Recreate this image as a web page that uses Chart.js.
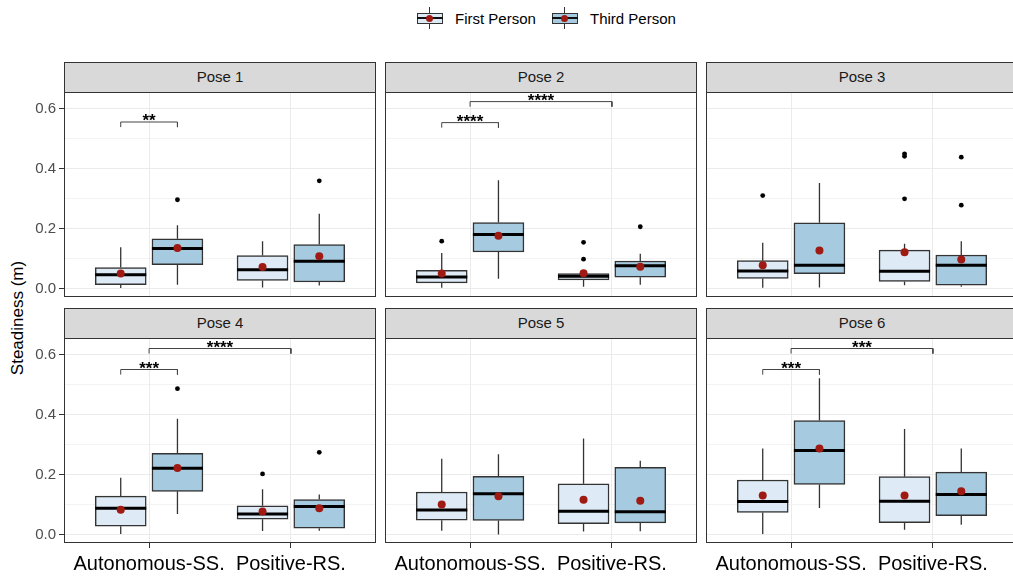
<!DOCTYPE html>
<html>
<head>
<meta charset="utf-8">
<script src="https://cdn.jsdelivr.net/npm/chart.js@4.4.0/dist/chart.umd.min.js"></script>
<style>
    body { margin: 0; width: 1013px; height: 576px; overflow: hidden; background: #fff; position: relative;
           font-family: "Liberation Sans", Arial, sans-serif; }
    canvas { position: absolute; }
    .strip { position: absolute; background: #d9d9d9; border: 1px solid #333; box-sizing: border-box;
             text-align: center; font-size: 15px; color: #1a1a1a; line-height: 28px; }
    .ytitle { position: absolute; left: 18px; top: 318px; transform: translate(-50%, -50%) rotate(-90deg);
              font-size: 17px; color: #000; white-space: nowrap; }
    .key { position: absolute; top: 7px; width: 26px; height: 22px; }
    .key .wh { position: absolute; left: 12px; top: 0; width: 1px; height: 22px; background: #333; }
    .key .bx { position: absolute; left: 0; top: 6px; width: 26px; height: 11px; border: 1px solid #333; box-sizing: border-box; }
    .key .md { position: absolute; left: 0; top: 10px; width: 26px; height: 2px; background: #111; }
    .key .mn { position: absolute; left: 9px; top: 8px; width: 7px; height: 7px; border-radius: 50%; background: #9e1a12; }
    .ktext { position: absolute; top: 10px; font-size: 15px; color: #000; }
</style>
</head>
<body>
<div class="key" style="left:417px"><div class="wh"></div><div class="bx" style="background:#deebf7"></div><div class="md"></div><div class="mn"></div></div>
<div class="ktext" style="left:455px">First Person</div>
<div class="key" style="left:552px"><div class="wh"></div><div class="bx" style="background:#a6cadf"></div><div class="md"></div><div class="mn"></div></div>
<div class="ktext" style="left:590px">Third Person</div>
<div class="ytitle">Steadiness (m)</div>

<script>
// Categories and facets
const categories = ['Autonomous-SS.', 'Positive-RS.'];
const poses = ['Pose 1', 'Pose 2', 'Pose 3', 'Pose 4', 'Pose 5', 'Pose 6'];
const yTicks = [0, 0.2, 0.4, 0.6];

// Box stats per pose, per category: [whisker low, q1, median, q3, whisker high]
const firstPersonBoxes = [
    [[0.002, 0.013, 0.046, 0.070, 0.138], [0.004, 0.027, 0.063, 0.110, 0.158]],
    [[0.003, 0.019, 0.039, 0.061, 0.119], [0.006, 0.029, 0.041, 0.050, 0.058]],
    [[0.003, 0.034, 0.059, 0.093, 0.153], [0.011, 0.024, 0.058, 0.128, 0.149]],
    [[0.002, 0.028, 0.088, 0.128, 0.189], [0.012, 0.051, 0.069, 0.096, 0.151]],
    [[0.013, 0.048, 0.082, 0.142, 0.253], [0.010, 0.036, 0.078, 0.169, 0.320]],
    [[0.002, 0.074, 0.110, 0.182, 0.287], [0.016, 0.040, 0.111, 0.193, 0.352]]
];
const thirdPersonBoxes = [
    [[0.013, 0.080, 0.134, 0.166, 0.211], [0.010, 0.022, 0.091, 0.147, 0.249]],
    [[0.033, 0.122, 0.180, 0.220, 0.361], [0.013, 0.038, 0.076, 0.092, 0.116]],
    [[0.004, 0.050, 0.078, 0.219, 0.352], [0.006, 0.011, 0.078, 0.112, 0.158]],
    [[0.069, 0.144, 0.221, 0.271, 0.386], [0.013, 0.021, 0.094, 0.117, 0.134]],
    [[0.000, 0.047, 0.136, 0.194, 0.268], [0.011, 0.039, 0.076, 0.224, 0.246]],
    [[0.089, 0.167, 0.280, 0.380, 0.521], [0.033, 0.063, 0.134, 0.208, 0.287]]
];

// Means per pose, per category
const firstPersonMeans = [[0.050, 0.072], [0.050, 0.051], [0.078, 0.121], [0.083, 0.077], [0.100, 0.116], [0.130, 0.130]];
const thirdPersonMeans = [[0.135, 0.108], [0.176, 0.073], [0.127, 0.097], [0.222, 0.088], [0.128, 0.113], [0.287, 0.144]];

// Outliers per pose, per category
const firstPersonOutliers = [
    [[], []], [[0.158], [0.098, 0.154]], [[0.310], [0.299, 0.441, 0.449]],
    [[], [0.202]], [[], []], [[], []]
];
const thirdPersonOutliers = [
    [[0.296], [0.359]], [[], [0.206]], [[], [0.278, 0.438]],
    [[0.486], [0.274]], [[], []], [[], []]
];

// Significance brackets: [pose index, from x, to x, y, label]
const brackets = [
    [0, 0.8, 1.2, 0.555, '**'],
    [1, 0.8, 1.2, 0.553, '****'],
    [1, 1.0, 2.0, 0.623, '****'],
    [3, 0.8, 1.2, 0.550, '***'],
    [3, 1.0, 2.0, 0.620, '****'],
    [5, 0.8, 1.2, 0.550, '***'],
    [5, 1.0, 2.0, 0.620, '***']
];

const DODGE = 0.2;
const HALF_BOX = 0.18;
const GRID = '#ebebeb';

function boxData(stats, shift) {
    return stats.map((s, c) => ({ x: c + 1 + shift, y: [s[1], s[3]] }));
}
function whiskerData(stats, shift) {
    const pts = [];
    stats.forEach((s, c) => {
        const x = c + 1 + shift;
        pts.push({ x: x, y: s[0] }, { x: x, y: s[1] }, { x: x, y: null });
        pts.push({ x: x, y: s[3] }, { x: x, y: s[4] }, { x: x, y: null });
    });
    return pts;
}
function medianData(stats, shift) {
    const pts = [];
    stats.forEach((s, c) => {
        const x = c + 1 + shift;
        pts.push({ x: x - HALF_BOX, y: s[2] }, { x: x + HALF_BOX, y: s[2] }, { x: x, y: null });
    });
    return pts;
}
function pointData(values, shift) {
    return values.map((v, c) => ({ x: c + 1 + shift, y: v }));
}
function outlierData(lists, shift) {
    const pts = [];
    lists.forEach((l, c) => l.forEach(v => pts.push({ x: c + 1 + shift, y: v })));
    return pts;
}
function bracketData(p) {
    const pts = [];
    brackets.filter(b => b[0] === p).forEach(b => {
        pts.push({ x: b[1], y: b[3] - 0.017 }, { x: b[1], y: b[3] },
                 { x: b[2], y: b[3] }, { x: b[2], y: b[3] - 0.017 }, { x: b[2], y: null });
    });
    return pts;
}
function isMajor(v) {
    return yTicks.some(t => Math.abs(t - v) < 1e-6);
}

// Panel border and significance stars
const panelDecor = {
    id: 'panelDecor',
    afterDatasetsDraw(chart, args, opts) {
        const ctx = chart.ctx;
        const a = chart.chartArea;
        const xs = chart.scales.x, ys = chart.scales.y;
        ctx.save();
        ctx.fillStyle = '#000';
        ctx.font = 'bold 17px "Liberation Sans", Arial, sans-serif';
        ctx.textAlign = 'center';
        ctx.textBaseline = 'alphabetic';
        brackets.filter(b => b[0] === opts.pose).forEach(b => {
            ctx.fillText(b[4], xs.getPixelForValue((b[1] + b[2]) / 2), ys.getPixelForValue(b[3]) + 4);
        });
        ctx.strokeStyle = '#333';
        ctx.lineWidth = 1;
        ctx.strokeRect(a.left + 0.5, a.top + 0.5, a.right - a.left - 1, a.bottom - a.top - 1);
        ctx.restore();
    }
};

const plotLefts = [64, 385, 706];
const plotTops = [92, 338];
const PLOT_W = 312, PLOT_H = 205;

poses.forEach((pose, p) => {
    const col = p % 3, row = Math.floor(p / 3);
    const axisW = col === 0 ? 64 : 0;
    const axisH = row === 1 ? 35 : 0;

    const strip = document.createElement('div');
    strip.className = 'strip';
    strip.style.left = plotLefts[col] + 'px';
    strip.style.top = (plotTops[row] - 30) + 'px';
    strip.style.width = PLOT_W + 'px';
    strip.style.height = '31px';
    strip.textContent = pose;
    document.body.appendChild(strip);

    const canvas = document.createElement('canvas');
    canvas.width = PLOT_W + axisW;
    canvas.height = PLOT_H + axisH;
    canvas.style.left = (plotLefts[col] - axisW) + 'px';
    canvas.style.top = plotTops[row] + 'px';
    document.body.appendChild(canvas);

    const fp = firstPersonBoxes[p], tp = thirdPersonBoxes[p];

    new Chart(canvas.getContext('2d'), {
        type: 'bar',
        data: {
            datasets: [
                { label: 'First Person', data: boxData(fp, -DODGE), backgroundColor: '#deebf7',
                  borderColor: '#333', borderWidth: 1.5, borderSkipped: false, barThickness: 51, grouped: false, order: 5 },
                { label: 'Third Person', data: boxData(tp, DODGE), backgroundColor: '#a6cadf',
                  borderColor: '#333', borderWidth: 1.5, borderSkipped: false, barThickness: 51, grouped: false, order: 5 },
                { type: 'line', data: whiskerData(fp, -DODGE).concat(whiskerData(tp, DODGE)),
                  borderColor: '#333', borderWidth: 1.3, pointRadius: 0, spanGaps: false, order: 6 },
                { type: 'line', data: medianData(fp, -DODGE).concat(medianData(tp, DODGE)),
                  borderColor: '#000', borderWidth: 3, pointRadius: 0, spanGaps: false, order: 3 },
                { type: 'line', data: bracketData(p),
                  borderColor: '#444', borderWidth: 1, pointRadius: 0, spanGaps: false, order: 2 },
                { type: 'scatter', data: outlierData(firstPersonOutliers[p], -DODGE).concat(outlierData(thirdPersonOutliers[p], DODGE)),
                  backgroundColor: '#000', borderWidth: 0, pointRadius: 2.4, order: 2 },
                { type: 'scatter', data: pointData(firstPersonMeans[p], -DODGE).concat(pointData(thirdPersonMeans[p], DODGE)),
                  backgroundColor: '#9e1a12', borderWidth: 0, pointRadius: 4, order: 1 }
            ]
        },
        options: {
            responsive: false,
            animation: false,
            layout: { padding: 0, autoPadding: false },
            plugins: { legend: { display: false }, tooltip: { enabled: false }, panelDecor: { pose: p } },
            scales: {
                x: {
                    type: 'linear', min: 0.4, max: 2.6, offset: false,
                    afterBuildTicks: s => { s.ticks = [{ value: 1 }, { value: 2 }]; },
                    afterFit: s => { s.height = axisH; s.paddingLeft = 0; s.paddingRight = 0; },
                    border: { display: false },
                    grid: { color: GRID, lineWidth: 1, offset: false, drawTicks: row === 1, tickLength: 5, tickColor: '#333' },
                    ticks: {
                        display: row === 1, padding: 4, color: '#000', autoSkip: false, maxRotation: 0,
                        font: { size: 20, family: '"Liberation Sans", Arial, sans-serif' },
                        callback: v => categories[v - 1]
                    }
                },
                y: {
                    type: 'linear', min: -0.028, max: 0.655,
                    afterBuildTicks: s => { s.ticks = [0, 0.1, 0.2, 0.3, 0.4, 0.5, 0.6].map(v => ({ value: v })); },
                    afterFit: s => { s.width = axisW; s.paddingTop = 0; s.paddingBottom = 0; },
                    border: { display: false },
                    grid: {
                        color: GRID,
                        lineWidth: c => (c.tick && isMajor(c.tick.value)) ? 1 : 0.6,
                        drawTicks: col === 0, tickLength: 5,
                        tickColor: c => (c.tick && isMajor(c.tick.value)) ? '#333' : 'rgba(0,0,0,0)'
                    },
                    ticks: {
                        display: col === 0, padding: 3, color: '#4d4d4d', autoSkip: false,
                        font: { size: 15, family: '"Liberation Sans", Arial, sans-serif' },
                        callback: v => isMajor(v) ? v.toFixed(1) : ''
                    }
                }
            }
        },
        plugins: [panelDecor]
    });
});
</script>
</body>
</html>
